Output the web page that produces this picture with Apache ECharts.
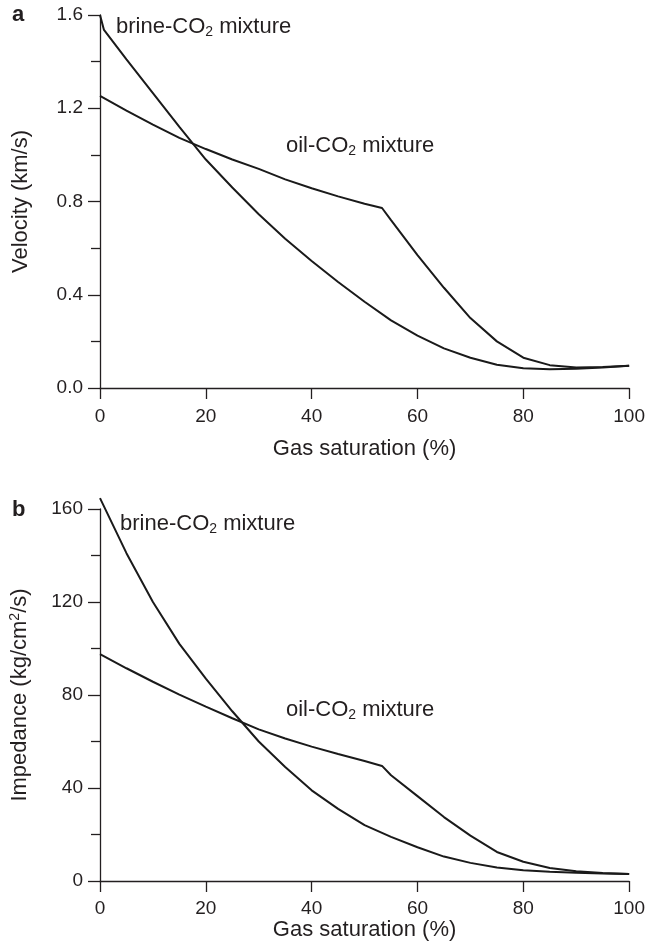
<!DOCTYPE html>
<html lang="en">
<head>
	<meta charset="UTF-8">
	<title>CO2 mixture velocity and impedance</title>
	<script src="https://cdn.jsdelivr.net/npm/echarts@6/dist/echarts.min.js"></script>
	<style>
		html, body { margin: 0; padding: 0; background: #fff; }
	</style>
</head>
<body>
	<div id="chart" style="width: 648px;height: 946px;"></div>
	<script>
		// panel a: velocity (km/s)
		var satBrineA = [0, 0.75, 5, 10, 15, 20, 25, 30, 35, 40, 45, 50, 55, 60, 65, 70, 75, 80, 85, 90, 95, 100];
		var velBrine = [1.6, 1.536, 1.41, 1.265, 1.12, 0.98, 0.86, 0.745, 0.64, 0.545, 0.455, 0.37, 0.29, 0.225, 0.17, 0.13, 0.10, 0.085, 0.08, 0.083, 0.088, 0.095];
		var satOilA = [0, 5, 10, 15, 20, 25, 30, 35, 40, 45, 50, 53.3, 55, 60, 65, 70, 75, 80, 85, 90, 95, 100];
		var velOil = [1.253, 1.19, 1.13, 1.073, 1.025, 0.98, 0.94, 0.895, 0.857, 0.822, 0.79, 0.772, 0.72, 0.57, 0.43, 0.30, 0.20, 0.13, 0.098, 0.088, 0.09, 0.095];

		// panel b: impedance (kg/cm2/s)
		var satBrineB = [0, 5, 10, 15, 20, 25, 30, 35, 40, 45, 50, 55, 60, 65, 70, 75, 80, 85, 90, 95, 100];
		var impBrine = [164.7, 141, 120, 102, 87, 73, 60, 49, 39, 31, 24, 19, 14.5, 10.5, 7.8, 5.8, 4.6, 4.0, 3.5, 3.2, 3.0];
		var satOilB = [0, 5, 10, 15, 20, 25, 30, 35, 40, 45, 50, 53.3, 55, 60, 65, 70, 75, 80, 85, 90, 95, 100];
		var impOil = [97.6, 91.5, 85.7, 80.2, 75.0, 70.0, 65.2, 61.3, 57.8, 54.6, 51.6, 49.5, 45.5, 36.5, 27.5, 19.5, 12.5, 8.3, 5.6, 4.2, 3.4, 3.0];

		function pairs(xs, ys) {
			return xs.map(function (x, i) { return [x, ys[i]]; });
		}

		var font = 'Liberation Sans, Arial, sans-serif';
		var ink = '#231f20';
		var tickFs = 19;
		var nameFs = 22;

		function xAxis(idx, labelMargin, nameGap) {
			return {
				type: 'value', gridIndex: idx, min: 0, max: 100, interval: 20,
				name: 'Gas saturation (%)', nameLocation: 'middle', nameGap: nameGap,
				nameTextStyle: { color: ink, fontSize: nameFs, fontFamily: font },
				axisLine: { lineStyle: { color: ink, width: 1.3 } },
				axisTick: { length: 11, lineStyle: { color: ink, width: 1.3 } },
				axisLabel: { color: ink, fontSize: tickFs, fontFamily: font, margin: labelMargin },
				splitLine: { show: false }
			};
		}

		function yAxis(idx, max, interval, name, digits) {
			return {
				type: 'value', gridIndex: idx, min: 0, max: max, interval: interval,
				name: name, nameLocation: 'middle', nameGap: 68,
				nameTextStyle: { color: ink, fontSize: nameFs, fontFamily: font,
					rich: { sup: { fontSize: 14, fontFamily: font, color: ink, verticalAlign: 'top', padding: [0, 0, 10, 0] } } },
				axisLine: { lineStyle: { color: ink, width: 1.3 } },
				axisTick: { length: 12, lineStyle: { color: ink, width: 1.3 } },
				minorTick: { show: true, splitNumber: 2, length: 9, lineStyle: { color: ink, width: 1.3 } },
				axisLabel: { color: ink, fontSize: tickFs, fontFamily: font, margin: 17,
					formatter: function (v) { return v.toFixed(digits); } },
				splitLine: { show: false }
			};
		}

		function line(xi, xs, ys) {
			return {
				type: 'line', xAxisIndex: xi, yAxisIndex: xi,
				data: pairs(xs, ys), showSymbol: false, clip: false,
				lineStyle: { color: '#1a1a1a', width: 2 }, animation: false
			};
		}

		function label(x, y, pre, post) {
			return {
				type: 'text', left: x, top: y,
				style: {
					text: pre + '{sub|2}' + post,
					font: nameFs + 'px ' + font, fill: ink,
					rich: { sub: { fontSize: 14, fontFamily: font, fill: ink, verticalAlign: 'bottom', padding: [10, 0, 0, 0] } }
				}
			};
		}

		var option = {
			animation: false,
			grid: [
				{ left: 100, right: 17, top: 15, height: 373 },
				{ left: 100, right: 17, top: 509, height: 372 }
			],
			xAxis: [xAxis(0, 19, 50), xAxis(1, 18, 38)],
			yAxis: [
				yAxis(0, 1.6, 0.4, 'Velocity (km/s)', 1),
				yAxis(1, 160, 40, 'Impedance (kg/cm{sup|2}/s)', 0)
			],
			series: [
				line(0, satBrineA, velBrine),
				line(0, satOilA, velOil),
				line(1, satBrineB, impBrine),
				line(1, satOilB, impOil)
			],
			graphic: [
				{ type: 'text', left: 12, top: 4, style: { text: 'a', font: 'bold 22px ' + font, fill: ink } },
				{ type: 'text', left: 12, top: 499, style: { text: 'b', font: 'bold 22px ' + font, fill: ink } },
				label(116, 16, 'brine-CO', ' mixture'),
				label(286, 135, 'oil-CO', ' mixture'),
				label(120, 513, 'brine-CO', ' mixture'),
				label(286, 699, 'oil-CO', ' mixture')
			]
		};

		var myChart = echarts.init(document.getElementById('chart'));
		myChart.setOption(option);
	</script>
</body>
</html>
